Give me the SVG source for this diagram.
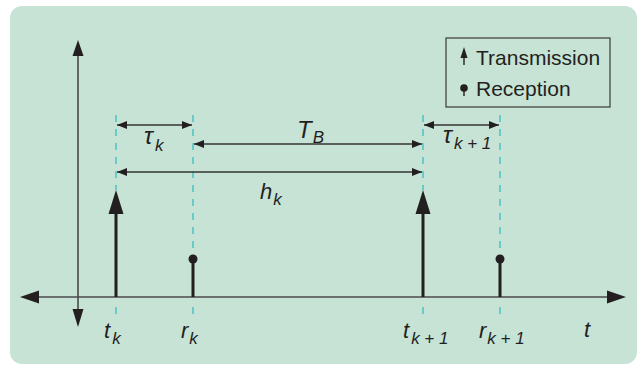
<svg xmlns="http://www.w3.org/2000/svg" width="644" height="366" viewBox="0 0 644 366">
<defs>
<style>
.bg{fill:#c6e3d5}
.axis{stroke:#4a4a4a;stroke-width:1.6;fill:none}
.dim{stroke:#333;stroke-width:1.3;fill:none}
.dash{stroke:#3bbdc2;stroke-width:1.3;stroke-dasharray:7 7;fill:none}
.stem{stroke:#231f20;stroke-width:3;fill:none}
.head{fill:#231f20}
.lbl{font-family:"Liberation Sans",Arial,sans-serif;font-style:italic;font-size:22px;fill:#231f20}
.big{font-size:24px}
.sub{font-size:17px}
.leg{font-family:"Liberation Sans",Arial,sans-serif;font-size:21px;fill:#231f20}
</style>
<marker id="ah" viewBox="0 0 10 8" refX="10" refY="4" markerWidth="10" markerHeight="8" markerUnits="userSpaceOnUse" orient="auto-start-reverse">
<path d="M0,0 L10,4 L0,8 Z" fill="#231f20"/>
</marker>
</defs>
<rect class="bg" x="10" y="6" width="627" height="358" rx="12"/>

<g id="axes">
<line class="axis" x1="36" y1="297" x2="610" y2="297"/>
<path class="head" d="M20,297 L39,290.5 L39,303.5 Z"/>
<path class="head" d="M626,297 L607,290.5 L607,303.5 Z"/>
<line class="axis" x1="78" y1="54" x2="78" y2="311"/>
<path class="head" d="M78,40 L72.5,56 L83.5,56 Z"/>
<path class="head" d="M78,327 L72.5,309 L83.5,309 Z"/>
<text class="lbl" x="584" y="337">t</text>
</g>

<g id="guides">
<line class="dash" x1="116" y1="115" x2="116" y2="190"/>
<line class="dash" x1="193" y1="115" x2="193" y2="255"/>
<line class="dash" x1="423" y1="115" x2="423" y2="190"/>
<line class="dash" x1="500" y1="115" x2="500" y2="255"/>
<line class="dash" x1="116" y1="307" x2="116" y2="317"/>
<line class="dash" x1="193" y1="307" x2="193" y2="317"/>
<line class="dash" x1="423" y1="307" x2="423" y2="317"/>
<line class="dash" x1="500" y1="307" x2="500" y2="317"/>
</g>

<g id="connectors">
<line class="dim" x1="117" y1="125" x2="192" y2="125" marker-start="url(#ah)" marker-end="url(#ah)"/>
<line class="dim" x1="194" y1="144" x2="422" y2="144" marker-start="url(#ah)" marker-end="url(#ah)"/>
<line class="dim" x1="424" y1="125" x2="499" y2="125" marker-start="url(#ah)" marker-end="url(#ah)"/>
<line class="dim" x1="117" y1="172" x2="422" y2="172" marker-start="url(#ah)" marker-end="url(#ah)"/>
<text class="lbl big" x="144" y="144">τ<tspan class="sub" dx="2" dy="7">k</tspan></text>
<text class="lbl big" x="297" y="138">T<tspan class="sub" dx="1" dy="5">B</tspan></text>
<text class="lbl big" x="443" y="143">τ<tspan class="sub" dx="2" dy="6">k + 1</tspan></text>
<text class="lbl" x="260" y="199">h<tspan class="sub" dx="1" dy="6">k</tspan></text>
</g>

<g id="tx-k">
<line class="stem" x1="116" y1="210" x2="116" y2="297"/>
<path class="head" d="M116,190 L108.5,214 L123.5,214 Z"/>
<text class="lbl" x="104" y="338">t<tspan class="sub" dx="2" dy="6">k</tspan></text>
</g>
<g id="rx-k">
<line class="stem" x1="193" y1="259" x2="193" y2="297"/>
<circle class="head" cx="193" cy="259" r="4.5"/>
<text class="lbl" x="181" y="338">r<tspan class="sub" dx="1" dy="6">k</tspan></text>
</g>
<g id="tx-k1">
<line class="stem" x1="423" y1="210" x2="423" y2="297"/>
<path class="head" d="M423,190 L415.5,214 L430.5,214 Z"/>
<text class="lbl" x="403" y="338">t<tspan class="sub" dx="2" dy="6">k + 1</tspan></text>
</g>
<g id="rx-k1">
<line class="stem" x1="500" y1="259" x2="500" y2="297"/>
<circle class="head" cx="500" cy="259" r="4.5"/>
<text class="lbl" x="479" y="338">r<tspan class="sub" dx="1" dy="6">k + 1</tspan></text>
</g>

<g id="legend">
<rect x="446" y="38" width="164" height="69" fill="none" stroke="#3a3a3a" stroke-width="1.2"/>
<line x1="464" y1="54" x2="464" y2="65" stroke="#231f20" stroke-width="1.4"/>
<path class="head" d="M464,47 L460.5,58 L467.5,58 Z"/>
<text class="leg" x="476" y="65">Transmission</text>
<line x1="464" y1="88" x2="464" y2="96" stroke="#231f20" stroke-width="1.4"/>
<circle class="head" cx="464" cy="88" r="3.8"/>
<text class="leg" x="476" y="96">Reception</text>
</g>
</svg>
